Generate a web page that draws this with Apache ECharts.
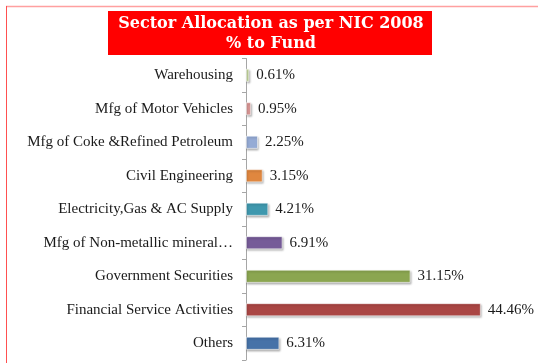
<!DOCTYPE html>
<html>
<head>
<meta charset="utf-8">
<style>
  html, body { margin: 0; padding: 0; background: #ffffff; }
  #chart { width: 538px; height: 363px; }
</style>
<script src="https://cdn.jsdelivr.net/npm/echarts@6/dist/echarts.min.js"></script>
</head>
<body>
<div id="chart"></div>
<script>
// Sector allocation by NIC 2008 classification, % of fund
const sectors = [
  'Warehousing',
  'Mfg of Motor Vehicles',
  'Mfg of Coke &Refined Petroleum',
  'Civil Engineering',
  'Electricity,Gas & AC Supply',
  'Mfg of Non-metallic mineral\u2026',
  'Government Securities',
  'Financial Service Activities',
  'Others'
];
const allocation = [0.61, 0.95, 2.25, 3.15, 4.21, 6.91, 31.15, 44.46, 6.31];
const barColors = [
  '#c3d69b', '#d99694', '#95abd5', '#e0873f', '#3f98ae',
  '#765b98', '#8ba650', '#aa4644', '#4672a8'
];
const titleLines = ['Sector Allocation as per NIC 2008', '% to Fund'];

const chart = echarts.init(document.getElementById('chart'), null, { renderer: 'canvas' });

chart.setOption({
  animation: false,
  backgroundColor: '#ffffff',
  grid: { left: 246, right: 28, top: 58.5, bottom: 3, containLabel: false },
  graphic: [
    { type: 'line', shape: { x1: 6, y1: 6.5, x2: 538, y2: 6.5 },
      style: { stroke: '#ffa0a0', lineWidth: 1.5 } },
    { type: 'line', shape: { x1: 6.5, y1: 6, x2: 6.5, y2: 363 },
      style: { stroke: '#ff5050', lineWidth: 1 } },
    { type: 'rect', shape: { x: 108, y: 11, width: 324, height: 44 },
      style: { fill: '#ff0000' } },
    { type: 'text', x: 271, y: 33.5,
      style: {
        text: titleLines.join('\n'),
        fill: '#ffffff',
        font: 'bold 16px "DejaVu Serif", serif',
        lineHeight: 20,
        align: 'center',
        verticalAlign: 'middle'
      } }
  ],
  xAxis: {
    type: 'value',
    min: 0,
    max: 50,
    show: false
  },
  yAxis: {
    type: 'category',
    inverse: true,
    data: sectors,
    axisLine: { show: true, lineStyle: { color: '#a6a6a6', width: 1 } },
    axisTick: { show: true, length: 4, lineStyle: { color: '#a6a6a6' } },
    axisLabel: {
      margin: 13,
      color: '#1a1a1a',
      fontFamily: '"Liberation Serif", "Times New Roman", serif',
      fontSize: 15
    },
    splitLine: { show: false }
  },
  series: [{
    type: 'bar',
    data: allocation.map((v, i) => ({
      value: v,
      itemStyle: {
        color: barColors[i],
        borderColor: 'rgba(255,255,255,0.7)',
        borderWidth: 0.8,
        shadowColor: 'rgba(0,0,0,0.3)',
        shadowBlur: 2,
        shadowOffsetX: 1,
        shadowOffsetY: 1.5
      }
    })),
    barWidth: 13,
    label: {
      show: true,
      position: 'right',
      distance: 7,
      formatter: p => p.value.toFixed(2) + '%',
      color: '#1a1a1a',
      fontFamily: '"Liberation Serif", "Times New Roman", serif',
      fontSize: 15
    }
  }]
});
</script>
</body>
</html>
